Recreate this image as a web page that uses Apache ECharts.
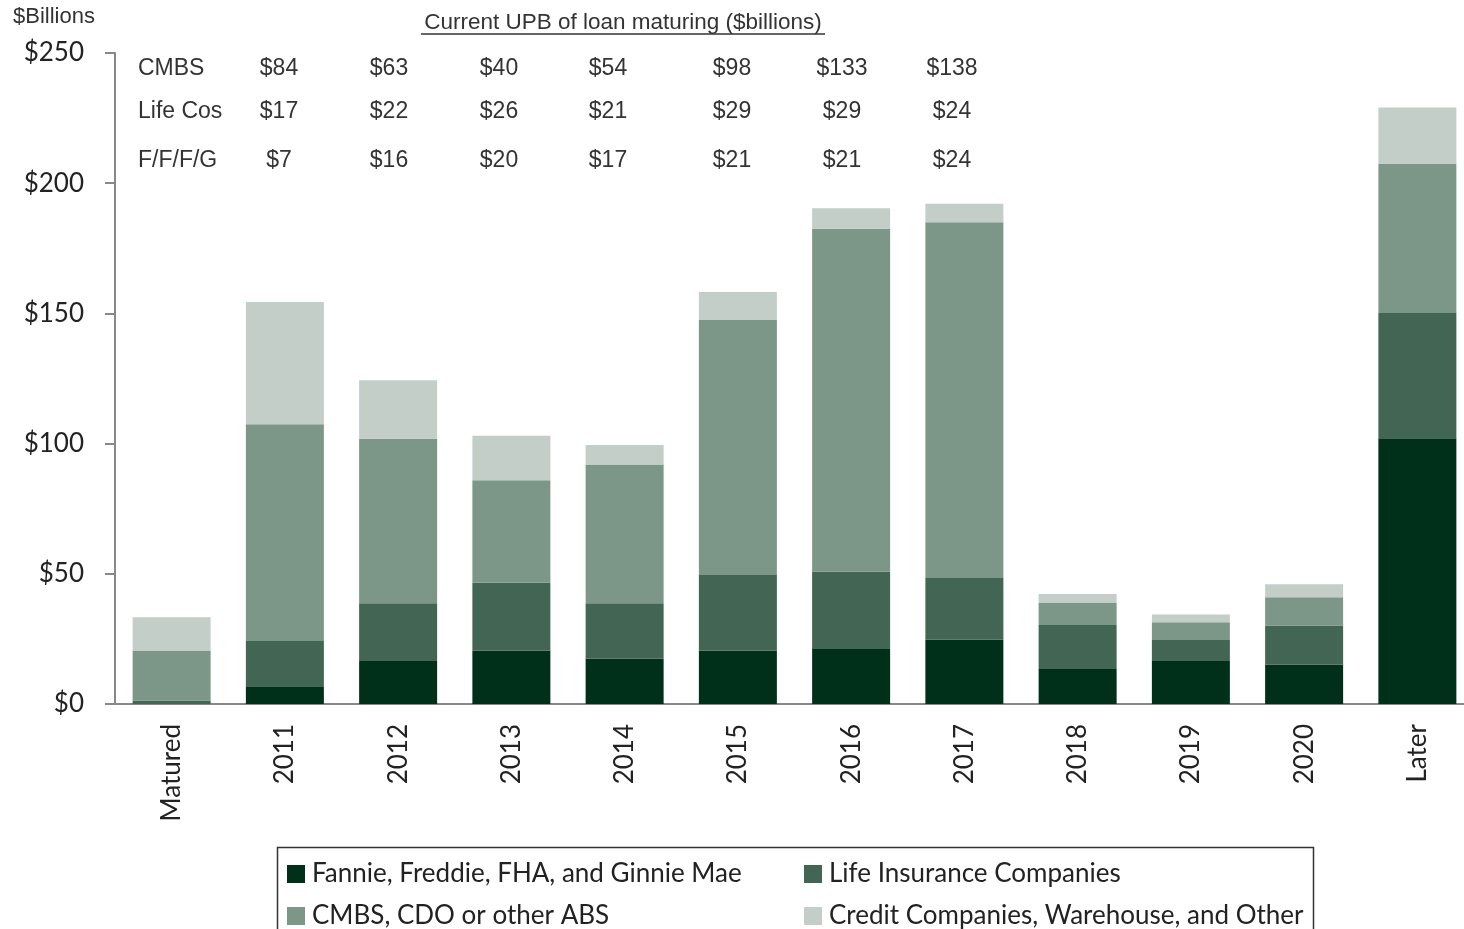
<!DOCTYPE html>
<html>
<head>
<meta charset="utf-8">
<script src="https://cdn.jsdelivr.net/npm/echarts@6/dist/echarts.min.js"></script>
<style>
  html, body { margin: 0; padding: 0; background: #fff; }
  #main { width: 1464px; height: 929px; }
</style>
</head>
<body>
<div id="main"></div>
<script>
// categories and stacked values ($ billions)
let categories = ['Matured', '2011', '2012', '2013', '2014', '2015', '2016', '2017', '2018', '2019', '2020', 'Later'];
let fannieData = [0, 6.8, 16.5, 20.5, 17.5, 20.5, 21.1, 24.8, 13.4, 16.5, 15.2, 102.1];
let lifeData   = [1.3, 17.4, 22.2, 26.1, 21.2, 29, 29.7, 23.6, 16.9, 8.1, 14.9, 48.1];
let cmbsData   = [19.2, 83.2, 63.2, 39.3, 53.3, 98, 131.7, 136.6, 8.5, 6.8, 10.9, 57.2];
let creditData = [12.8, 47, 22.4, 17.1, 7.5, 10.7, 7.9, 7.1, 3.4, 3, 5, 21.7];

// the little table over the bars
let tableRows = ['CMBS', 'Life Cos', 'F/F/F/G'];
let tableCmbs = ['$84', '$63', '$40', '$54', '$98', '$133', '$138'];
let tableLife = ['$17', '$22', '$26', '$21', '$29', '$29', '$24'];
let tableFfg  = ['$7', '$16', '$20', '$17', '$21', '$21', '$24'];
let tableCols = [279, 389, 499, 608, 732, 842, 952];
let tableY = [69, 112, 161];

let colors = ['#00301a', '#436553', '#7c9788', '#c3cec8'];
let names = ['Fannie, Freddie, FHA, and Ginnie Mae', 'Life Insurance Companies', 'CMBS, CDO or other ABS', 'Credit Companies, Warehouse, and Other'];

let txtFont = 'Liberation Sans, Arial, sans-serif';
let lblFont = 'Lato, sans-serif';

function tableText() {
  let out = [];
  let rows = [tableCmbs, tableLife, tableFfg];
  for (let r = 0; r < 3; r++) {
    out.push({
      type: 'text', x: 138, y: tableY[r],
      style: { text: tableRows[r], font: '23px ' + txtFont, fill: '#333', verticalAlign: 'middle' }
    });
    for (let c = 0; c < rows[r].length; c++) {
      out.push({
        type: 'text', x: tableCols[c], y: tableY[r],
        style: { text: rows[r][c], font: '23px ' + txtFont, fill: '#333', align: 'center', verticalAlign: 'middle' }
      });
    }
  }
  return out;
}

// one legend per entry so the two columns line up like the original box
function legendItem(name, left, top) {
  return {
    data: [name], left: left, top: top,
    itemWidth: 18, itemHeight: 18, icon: 'rect',
    textStyle: { fontFamily: lblFont, fontSize: 26, color: '#222', padding: [0, 0, 0, 2] }
  };
}

let myChart = echarts.init(document.getElementById('main'));
let option = {
  animation: false,
  color: colors,
  grid: { left: 115, top: 53, width: 1359, bottom: 225, outerBoundsMode: 'none', containLabel: false },
  legend: [
    legendItem(names[0], 282, 856),
    legendItem(names[1], 799, 856),
    legendItem(names[2], 282, 898),
    legendItem(names[3], 799, 898)
  ],
  xAxis: {
    type: 'category',
    data: categories,
    axisLine: { lineStyle: { color: '#888', width: 2 } },
    axisTick: { length: 10, lineStyle: { color: '#888', width: 2 } },
    axisLabel: { rotate: 90, margin: 20, fontFamily: lblFont, fontSize: 26, color: '#222' }
  },
  yAxis: {
    type: 'value',
    min: 0, max: 250, interval: 50,
    splitLine: { show: false },
    axisLine: { show: true, lineStyle: { color: '#888', width: 2 } },
    axisTick: { show: true, length: 10, lineStyle: { color: '#888', width: 2 } },
    axisLabel: { margin: 31, fontFamily: lblFont, fontSize: 26, color: '#222', formatter: '${value}' }
  },
  series: [
    { name: names[0], type: 'bar', stack: 'a', barWidth: 78, data: fannieData },
    { name: names[1], type: 'bar', stack: 'a', data: lifeData },
    { name: names[2], type: 'bar', stack: 'a', data: cmbsData },
    { name: names[3], type: 'bar', stack: 'a', data: creditData }
  ],
  graphic: [
    {
      type: 'text', x: 13, y: 17,
      style: { text: '$Billions', font: '22px ' + txtFont, fill: '#333', verticalAlign: 'middle' }
    },
    {
      type: 'text', x: 623, y: 23,
      style: { text: 'Current UPB of loan maturing ($billions)', font: '22.5px ' + txtFont, fill: '#333', align: 'center', verticalAlign: 'middle' }
    },
    {
      type: 'line', shape: { x1: 421, y1: 34, x2: 825, y2: 34 },
      style: { stroke: '#333', lineWidth: 1.5 }
    },
    {
      type: 'rect', shape: { x: 277.5, y: 847.5, width: 1036, height: 120 },
      style: { fill: 'none', stroke: '#333', lineWidth: 1.5 }, z: -1
    }
  ].concat(tableText())
};
myChart.setOption(option);
</script>
</body>
</html>
